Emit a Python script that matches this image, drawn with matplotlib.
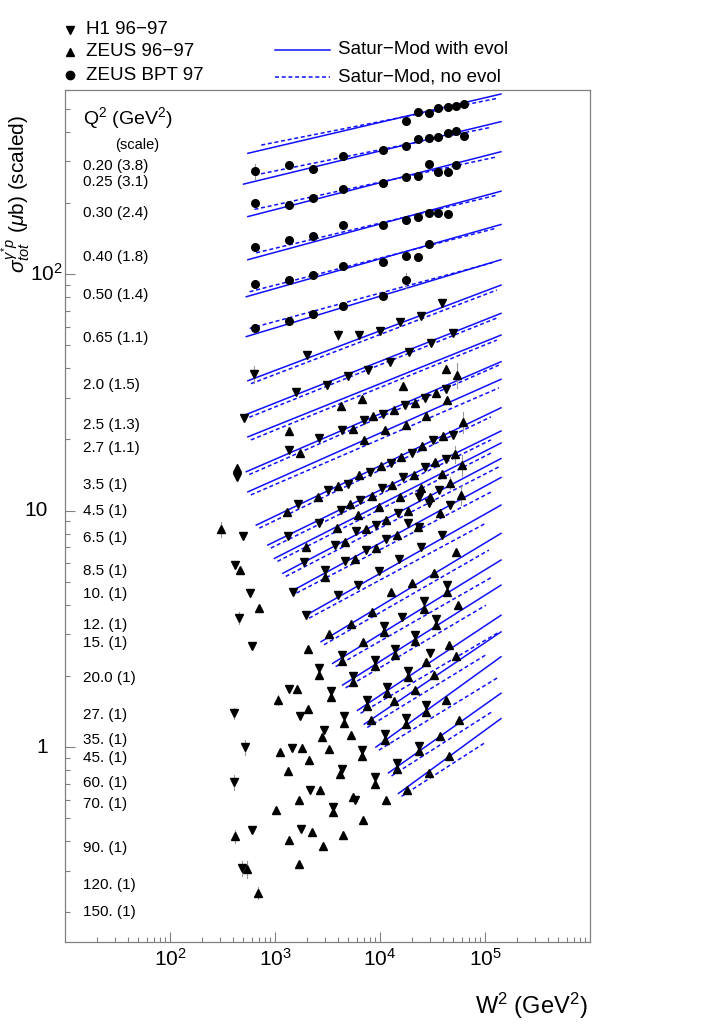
import numpy as np
import matplotlib.pyplot as plt
from matplotlib.ticker import LogLocator, FixedLocator, FixedFormatter, NullFormatter

plt.rcParams['font.family'] = ['Liberation Sans', 'DejaVu Sans']
plt.rcParams['mathtext.fontset'] = 'custom'
plt.rcParams['mathtext.rm'] = 'Liberation Sans'
plt.rcParams['mathtext.it'] = 'Liberation Sans:italic'

# Q^2 bins (label text) and model curves, one entry per bin
q2_labels = ["0.20 (3.8)", "0.25 (3.1)", "0.30 (2.4)", "0.40 (1.8)", "0.50 (1.4)",
             "0.65 (1.1)", "2.0 (1.5)", "2.5 (1.3)", "2.7 (1.1)", "3.5 (1)",
             "4.5 (1)", "6.5 (1)", "8.5 (1)", "10. (1)", "12. (1)", "15. (1)",
             "20.0 (1)", "27. (1)", "35. (1)", "45. (1)", "60. (1)", "70. (1)",
             "90. (1)", "120. (1)", "150. (1)"]

# solid: Satur-Mod with evolution (start / end points in W^2, sigma)
evol_w0 = [552, 502, 552, 552, 533, 533, 552, 533, 552, 533, 552, 663, 854, 989,
           1186, 1499, 1978, 2746, 3540, 4405, 6113, 7080, 9140, 12050, 15000]
evol_s0 = [324, 240, 175, 115, 80.2, 54.4, 35.4, 25.5, 20.5, 14.6, 12.0, 8.68, 7.15,
           6.28, 5.43, 4.61, 3.61, 2.79, 2.26, 1.83, 1.43, 1.25, 1.00, 0.778, 0.637]
evol_w1 = 1.42e5
evol_s1 = [577, 441, 329, 224, 162, 115, 89.8, 68.2, 55.2, 42.6, 35.9, 27.2, 21.7,
           19.3, 16.6, 13.8, 10.55, 8.01, 6.18, 4.84, 3.61, 3.07, 2.41, 1.69, 1.32]

# dashed: Satur-Mod without evolution
noev_w0 = [740, 638, 638, 663, 573, 573, 590, 569, 590, 569, 590, 708, 912, 1056,
           1267, 1601, 2113, 2933, 3781, 4705, 6529, 7561, 9762, 12870, 16020]
noev_s0 = [351, 262, 187.7, 123, 84.2, 58.9, 34.4, 24.8, 19.9, 14.2, 11.65, 8.43, 6.94,
           6.10, 5.27, 4.48, 3.51, 2.71, 2.19, 1.78, 1.39, 1.21, 0.971, 0.755, 0.619]
noev_w1 = [1.31e5, 1.09e5, 1.31e5, 1.31e5, 1.26e5, 1.17e5, 1.297e5, 1.297e5, 1.297e5,
           1.355e5, 1.355e5, 1.138e5, 1.138e5, 1.138e5, 1.355e5, 1.138e5, 1.02e5,
           1.09e5, 1.164e5, 1.02e5, 1.355e5, 1.043e5, 1.355e5, 1.164e5, 1.02e5]
noev_s1 = [553, 415.6, 313.3, 215.8, 156, 111.6, 85.6, 65.2, 52.6, 41.2, 33.0, 24.9,
           19.9, 17.5, 15.3, 11.97, 8.85, 6.81, 5.23, 3.98, 3.06, 2.47, 1.98, 1.41, 1.05]

# ZEUS BPT 97
bpt_w = [17850, 23200, 29300, 35700, 44400, 53300, 63000,
         640, 1350, 2290, 4470, 10650, 17850, 23200, 29300, 35700, 44400, 53300, 63000,
         640, 1350, 2290, 4470, 10650, 17850, 23200, 29300, 35700, 44400, 53300,
         640, 1350, 2290, 4470, 10650, 17850, 23200, 29300, 35700, 44400,
         640, 1350, 2290, 4470, 10650, 17850, 23200, 29300,
         640, 1350, 2290, 4470, 10650, 17850]
bpt_s = [444, 486, 481, 505, 510, 515, 522,
         272, 288, 278, 317, 334, 349, 372, 375, 380, 395, 402, 384,
         199, 195, 210, 229, 242, 258, 259, 291, 270, 270, 288,
         130.5, 139.3, 145, 161, 162, 170, 174, 180.5, 181, 179,
         90.7, 94.6, 98.9, 108, 112.7, 119.5, 118.4, 134,
         59.3, 63.3, 67.5, 73.6, 81.0, 94.3]
bpt_err = {6: 0.04, 7: 0.07, 53: 0.07}

# H1 96-97
h1_w = [3950, 6250, 9980, 15460, 24460, 39220, 49570, 2004, 625, 18940,
        12420, 7730, 4990, 3100, 1590, 30440, 502, 26870, 17350, 10720,
        6970, 4350, 2650, 1373, 42810, 434, 26870, 20090, 12860, 8020,
        4990, 3220, 1646, 494, 16610, 10560, 6440, 4250, 2606, 1323,
        23570, 14890, 9140, 5900, 3700, 1906, 18410, 11380, 7345, 4640,
        2997, 1476, 24460, 15220, 9830, 6110, 3950, 1978, 412, 581,
        453, 26290, 16360, 49570, 32210, 42250, 36490, 46110, 29330, 39220,
        23570, 43190, 33950, 29790, 27650, 10800, 21590, 602, 4310, 13850,
        8950, 2650, 5480, 18530, 11780, 1352, 3418, 7447, 1735, 404,
        4500, 17620, 2907, 11130, 521, 1444, 23570, 6730, 14660, 4350,
        9000, 404, 2160, 5815, 3594, 602, 1774, 481]
h1_s = [55.2, 55.2, 57.6, 62.8, 66.4, 75.6, 56.2, 45.4, 37.7, 46.9,
        42.6, 39.3, 37.1, 34.1, 31.8, 51.2, 24.7, 30.0, 27.9, 25.7,
        24.2, 21.9, 20.3, 18.0, 32.8, 13.9, 15.3, 17.5, 15.9, 14.6,
        12.95, 12.2, 10.7, 7.8, 13.9, 12.4, 11.1, 10.1, 8.83, 7.8,
        11.4, 9.79, 8.68, 8.19, 7.12, 6.04, 8.88, 7.61, 6.81, 6.14,
        5.63, 4.53, 7.01, 6.26, 5.56, 4.84, 4.39, 3.62, 5.88, 4.49,
        3.53, 4.15, 3.55, 20.8, 19.9, 16.6, 12.2, 10.55, 10.8, 7.87,
        8.54, 4.84, 3.47, 2.49, 1.50, 3.24, 2.97, 2.67, 2.45, 2.60,
        2.33, 2.16, 2.00, 2.10, 1.80, 1.76, 1.72, 1.58, 1.36, 1.39,
        1.35, 1.33, 1.18, 1.14, 1.00, 0.99, 1.01, 0.97, 0.86, 0.81,
        0.75, 0.71, 0.66, 0.60, 0.56, 0.446, 0.45, 0.307]
h1_err = {0: 0.05, 8: 0.08, 60: 0.06, 89: 0.05, 94: 0.07, 101: 0.07, 107: 0.07}

# ZEUS 96-97
zeus_w = [16610, 6670, 4250, 21590, 13730, 8620, 5480, 1352, 1735, 11130,
          17620, 7080, 27290, 25330, 16000, 10200, 6345, 3983, 2550, 1294,
          21120, 13140, 8305, 5178, 24780, 15560, 9680, 6113, 3863, 18650,
          11530, 7345, 4672, 1978, 23210, 14470, 9141, 5815, 20350, 12690,
          8305, 467, 702, 304, 42250, 54450, 33950, 43750, 62090, 39830,
          51790, 33210, 61000, 38800, 46700, 58650, 37060, 52590, 33000, 54930,
          45410, 52590, 27650, 32710, 42250, 56510, 37000, 45800, 29790, 5292,
          3293, 2049, 6927, 21590, 1625, 13640, 1063, 2080, 8197, 2807,
          5292, 1797, 1127, 3243, 2126, 4161, 1323, 29330, 2687, 18250,
          5566, 1709, 11380, 1027, 6927, 412, 2256, 1373, 4472, 2844,
          545, 1709, 687,
          434, 2997, 26290, 43190, 33950, 27650, 10800, 21590, 4310, 13850,
          8950, 2650, 5480, 18530, 11780, 3418, 7447, 4500, 17620, 11130,
          23570, 6730, 14660, 9000, 3594]
zeus_s = [33.6, 29.6, 27.6, 28.5, 26.6, 25.1, 22.2, 21.7, 17.6, 21.9,
          22.9, 19.9, 25.1, 18.8, 16.8, 15.45, 14.2, 12.7, 11.4, 9.83,
          14.1, 12.8, 11.5, 10.7, 12.4, 11.4, 10.4, 9.57, 8.41, 9.98,
          9.12, 8.33, 7.37, 7.01, 8.49, 7.87, 6.95, 6.22, 4.92, 4.53,
          3.74, 5.6, 3.89, 8.33, 39.5, 37.4, 31.3, 29.3, 23.7, 20.6,
          17.3, 16.0, 15.6, 14.3, 13.1, 11.6, 9.73, 6.69, 5.45, 3.98,
          2.69, 2.43, 2.29, 2.02, 1.58, 1.30, 1.11, 0.92, 11.4, 3.33,
          3.02, 2.61, 2.77, 1.74, 1.76, 1.57, 1.58, 1.45, 1.30, 1.10,
          1.13, 0.99, 0.95, 0.985, 0.88, 0.77, 0.79, 0.78, 0.66, 0.66,
          0.615, 0.597, 0.597, 0.542, 0.491, 0.42, 0.438, 0.406, 0.425, 0.382,
          0.305, 0.32, 0.242,
          15.1, 5.24, 3.85, 4.52, 3.27, 1.41, 3.06, 2.80, 2.31, 2.45,
          2.21, 2.02, 1.88, 1.98, 1.70, 1.63, 1.49, 1.27, 1.25, 1.07,
          0.96, 0.92, 0.81, 0.70, 0.53]
zeus_err = {43: 0.07, 45: 0.12, 48: 0.10, 50: 0.08, 52: 0.10, 54: 0.06, 55: 0.09,
            76: 0.05, 95: 0.06, 100: 0.08, 102: 0.06}

ytick_vals = [1, 10, 100]
ytick_text = ['1', '10', r'$10^{2}$']

BLUE = '#1010ff'
GREY = '#808080'
DASH = (0, (2.6, 1.8))

fig = plt.figure(figsize=(7.08, 10.35), dpi=100)
ax = fig.add_axes([65 / 708, 1 - 942 / 1035, 525 / 708, 852 / 1035])
ax.set_xscale('log')
ax.set_yscale('log')
ax.set_xlim(10, 1e6)
ax.set_ylim(0.15, 600)

# model curves
for i in range(len(q2_labels)):
    ax.plot([evol_w0[i], evol_w1], [evol_s0[i], evol_s1[i]], color=BLUE, lw=1.1)
    ax.plot([noev_w0[i], noev_w1[i]], [noev_s0[i], noev_s1[i]], color=BLUE, lw=1.1,
            ls=DASH)

# error bars
for w, s, err in [(bpt_w, bpt_s, bpt_err), (h1_w, h1_s, h1_err), (zeus_w, zeus_s, zeus_err)]:
    for i, rel in err.items():
        ax.plot([w[i], w[i]], [s[i] * (1 - rel), s[i] * (1 + rel)], color='#999999',
                lw=0.8, zorder=2)

ax.plot(bpt_w, bpt_s, 'o', color='k', ms=5.5, ls='none', zorder=3)
ax.plot(h1_w, h1_s, 'v', color='k', ms=5.5, ls='none', zorder=3)
ax.plot(zeus_w, zeus_s, '^', color='k', ms=5.5, ls='none', zorder=3)

# axes styling
for sp in ax.spines.values():
    sp.set_color(GREY)
    sp.set_linewidth(0.9)
ax.xaxis.set_major_locator(FixedLocator([1e2, 1e3, 1e4, 1e5]))
ax.xaxis.set_major_formatter(FixedFormatter([r'$10^{2}$', r'$10^{3}$', r'$10^{4}$', r'$10^{5}$']))
ax.xaxis.set_minor_locator(LogLocator(base=10, subs=np.arange(2, 10), numticks=100))
ax.xaxis.set_minor_formatter(NullFormatter())
ax.yaxis.set_major_locator(FixedLocator(ytick_vals))
ax.yaxis.set_major_formatter(NullFormatter())
ax.yaxis.set_minor_locator(LogLocator(base=10, subs=np.arange(2, 10), numticks=100))
ax.yaxis.set_minor_formatter(NullFormatter())
ax.tick_params(which='both', direction='in', top=False, right=False, color=GREY, width=0.8)
ax.tick_params(which='major', length=7, labelsize=15)
ax.tick_params(which='minor', length=3.5)
ax.tick_params(axis='x', which='major', pad=4)

# y tick labels: mantissa "10" sits left of the axis, exponent sticks out
ytr = ax.get_yaxis_transform()
for v, t in zip(ytick_vals, ytick_text):
    xoff = -0.005 if '^' in t else -0.033
    ax.text(xoff, v, t, transform=ytr, ha='right', va='center', fontsize=15)

# overlay in pixel units for legend and annotations
ov = fig.add_axes([0, 0, 1, 1])
ov.set_xlim(0, 708)
ov.set_ylim(1035, 0)
ov.axis('off')

ov.plot([70], [30], 'v', color='k', ms=6)
ov.plot([70], [52], '^', color='k', ms=6)
ov.plot([70], [75], 'o', color='k', ms=6)
ov.text(86, 30, "H1 96\u221297", fontsize=13.5, va='center')
ov.text(86, 52, "ZEUS 96\u221297", fontsize=13.5, va='center')
ov.text(86, 75, "ZEUS BPT 97", fontsize=13.5, va='center')
ov.plot([275, 330], [50, 50], color=BLUE, lw=1.1)
ov.plot([275, 330], [77, 77], color=BLUE, lw=1.1, ls=DASH)
ov.text(338, 50, "Satur\u2212Mod with evol", fontsize=13.5, va='center')
ov.text(338, 77, "Satur\u2212Mod, no evol", fontsize=13.5, va='center')

ov.text(83, 118, r"Q$^2$ (GeV$^2$)", fontsize=14, va='center')
ov.text(115, 145, "(scale)", fontsize=10.5, va='center')
label_y = [166, 182, 213, 257, 295, 338, 385, 425, 448, 485, 511, 538, 571, 594,
           625, 643, 678, 715, 740, 758, 783, 804, 848, 885, 912]
for txt, yy in zip(q2_labels, label_y):
    ov.text(83, yy, txt, fontsize=11, va='center')

ov.text(16, 194, r"$\sigma^{\gamma^{*}p}_{tot}$ ($\mu$b) (scaled)", fontsize=15,
        rotation=90, ha='center', va='center')
ov.text(588, 1006, r"W$^2$ (GeV$^2$)", fontsize=17, ha='right', va='center')

fig.savefig('out.png', dpi=100)
